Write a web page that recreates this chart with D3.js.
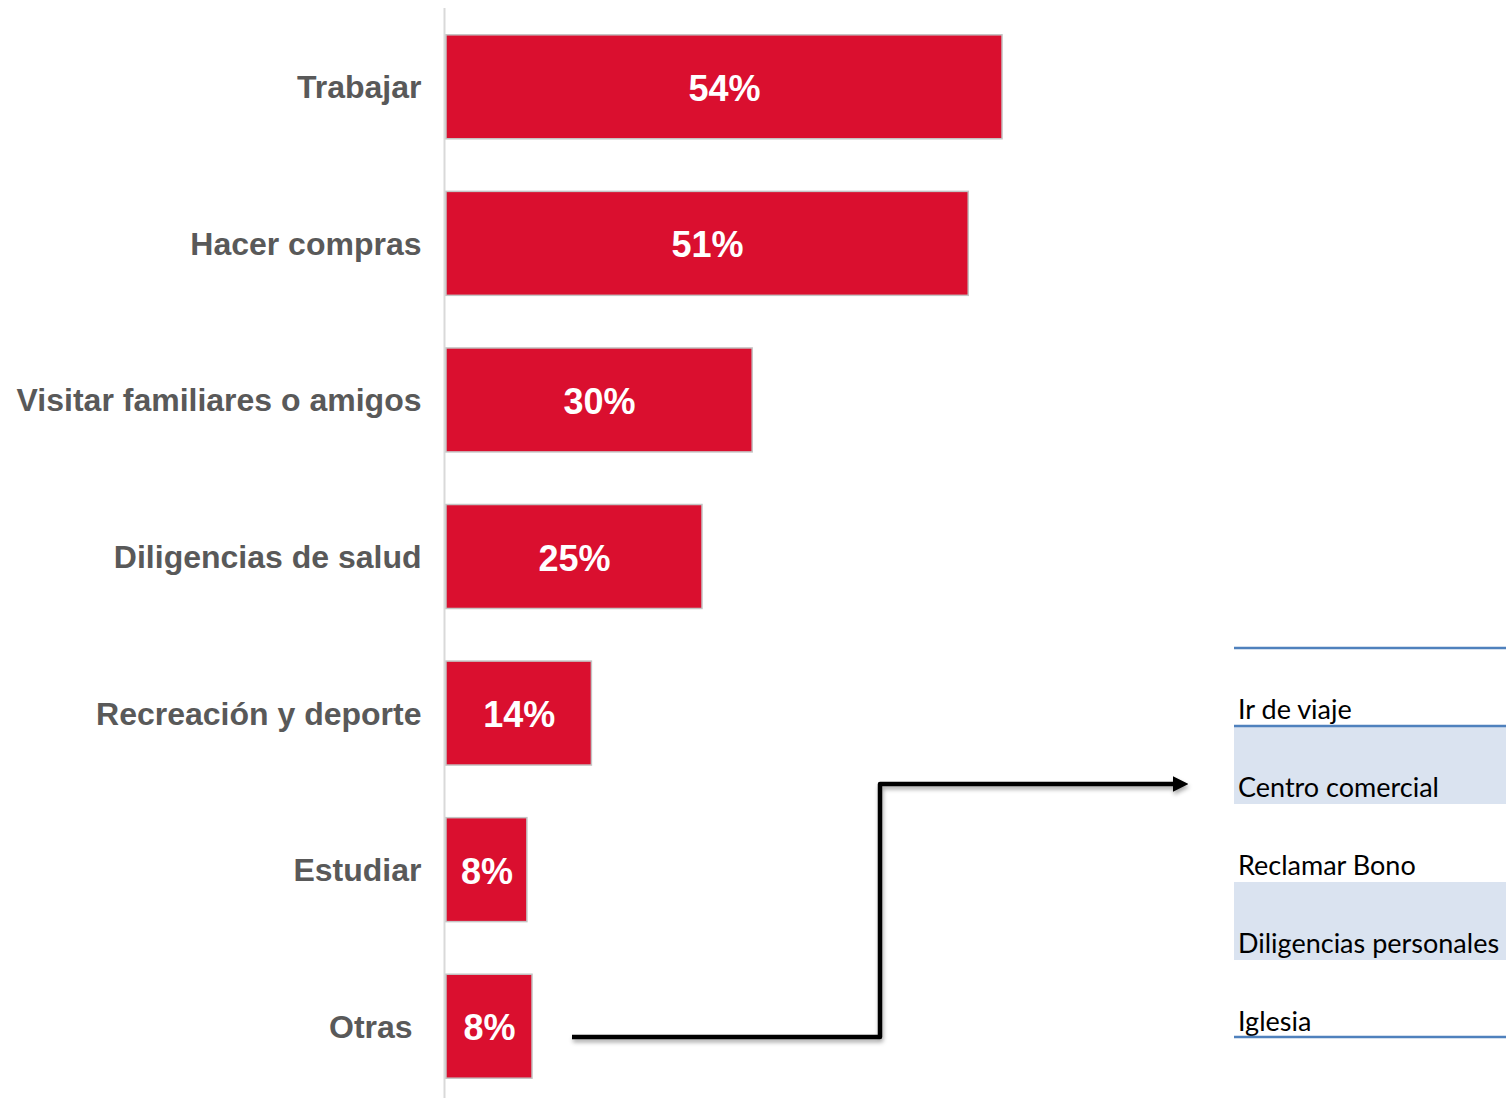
<!DOCTYPE html>
<html><head><meta charset="utf-8">
<script src="https://cdn.jsdelivr.net/npm/d3@7/dist/d3.min.js"></script>
<style>html,body{margin:0;padding:0;background:#fff;}svg{display:block;}</style>
</head><body>
<svg id="chart" width="1506" height="1098"></svg>
<script>
const categories = ["Trabajar", "Hacer compras", "Visitar familiares o amigos", "Diligencias de salud", "Recreación y deporte", "Estudiar", "Otras "];
const values = [54.3, 51.0, 29.9, 25.0, 14.2, 7.9, 8.4];
const otherItems = ["Ir de viaje", "Centro comercial", "Reclamar Bono", "Diligencias personales", "Iglesia"];

const svg = d3.select("#chart");
const x = d3.scaleLinear().domain([0, 100]).range([445, 1469]);
const y = d3.scaleBand().domain(categories).range([8.5, 1104.5]).paddingInner(0.336).paddingOuter(0.168);

// axis line
svg.append("line").attr("x1", 444.5).attr("x2", 444.5).attr("y1", 8).attr("y2", 1098)
  .attr("stroke", "#d9d9d9").attr("stroke-width", 2);

const data = categories.map((c, i) => ({c, v: values[i]}));

svg.selectAll("rect.bar").data(data).join("rect").attr("class", "bar")
  .attr("x", x(0) + 1).attr("y", d => y(d.c))
  .attr("width", d => x(d.v) - x(0)).attr("height", y.bandwidth())
  .attr("fill", "#da0f2f").attr("stroke", "#c4c4c4").attr("stroke-width", 1.5);

svg.selectAll("text.val").data(data).join("text").attr("class", "val")
  .attr("x", d => (x(0) + x(d.v)) / 2 + 1.5).attr("y", d => y(d.c) + y.bandwidth() / 2 + 14)
  .attr("text-anchor", "middle").attr("fill", "#fff")
  .attr("font-family", "Liberation Sans, Arial, sans-serif").attr("font-weight", "bold").attr("font-size", 36)
  .text(d => Math.round(d.v) + "%");

svg.selectAll("text.cat").data(data).join("text").attr("class", "cat")
  .attr("x", 421.5).attr("y", d => y(d.c) + y.bandwidth() / 2 + 11.5)
  .attr("text-anchor", "end").attr("fill", "#595959").style("white-space", "pre")
  .attr("font-family", "Liberation Sans, Arial, sans-serif").attr("font-weight", "bold").attr("font-size", 32)
  .text(d => d.c);

// table of "Otras"
const tx0 = 1234, tx1 = 1506, ty0 = 648, rowH = 78;
const rows = svg.append("g");
otherItems.forEach((t, i) => {
  const top = ty0 + i * rowH;
  if (i % 2 === 1) rows.append("rect").attr("x", tx0).attr("y", top).attr("width", tx1 - tx0).attr("height", rowH).attr("fill", "#dae3f0");
  rows.append("text").attr("x", 1238).attr("y", top + rowH - 7)
    .attr("font-family", "Lato, 'Open Sans', sans-serif").attr("font-size", 27).attr("fill", "#000").text(t);
});
[ty0, ty0 + rowH, ty0 + otherItems.length * rowH - 1].forEach(yy => {
  rows.append("line").attr("x1", tx0).attr("x2", tx1).attr("y1", yy).attr("y2", yy)
    .attr("stroke", "#4f81bd").attr("stroke-width", 2.5);
});

// arrow connector
const defs = svg.append("defs");
const f = defs.append("filter").attr("id", "sh").attr("x", "-10%").attr("y", "-10%").attr("width", "120%").attr("height", "130%");
f.append("feDropShadow").attr("dx", 1).attr("dy", 3).attr("stdDeviation", 2).attr("flood-color", "#000").attr("flood-opacity", 0.35);
defs.append("marker").attr("id", "ah").attr("viewBox", "0 0 10 10").attr("refX", 0).attr("refY", 5)
  .attr("markerWidth", 3.4).attr("markerHeight", 3.4).attr("orient", "auto").attr("markerUnits", "strokeWidth")
  .append("path").attr("d", "M0,0L10,5L0,10Z").attr("fill", "#000");
svg.append("path").attr("d", d3.line()([[572, 1037], [880, 1037], [880, 784], [1173, 784]]))
  .attr("fill", "none").attr("stroke", "#000").attr("stroke-width", 4.5).attr("stroke-linejoin", "round")
  .attr("marker-end", "url(#ah)").attr("filter", "url(#sh)");
</script>
</body></html>
